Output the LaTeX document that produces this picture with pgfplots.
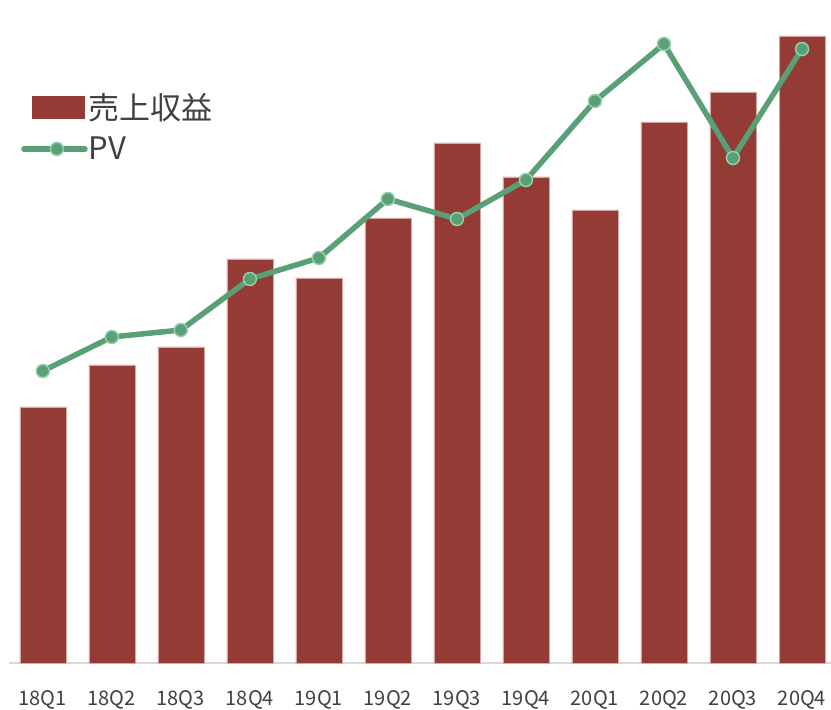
\documentclass[border=0pt]{standalone}
\usepackage{pgfplots}
\pgfplotsset{compat=1.18}
\usepackage{fontspec}
\setmainfont{Noto Sans CJK JP}

\definecolor{barred}{HTML}{943B36}
\definecolor{baredge}{HTML}{D8A8A4}
\definecolor{pvgreen}{HTML}{5AA077}
\definecolor{pvedge}{HTML}{93CFA9}
\definecolor{axisgray}{HTML}{D9D9D9}
\definecolor{txt}{HTML}{404040}

\begin{document}
\begin{tikzpicture}
\useasboundingbox (-9pt,-47pt) rectangle (822pt,663pt);
\begin{axis}[
    scale only axis,
    width=822pt, height=663pt,
    xmin=-0.49, xmax=11.42,
    ymin=0, ymax=663,
    axis x line*=bottom,
    axis y line=none,
    x axis line style={draw=axisgray, line width=1.5pt, -},
    xtick={0,...,11},
    xticklabels={18Q1,18Q2,18Q3,18Q4,19Q1,19Q2,19Q3,19Q4,20Q1,20Q2,20Q3,20Q4},
    major tick length=0pt,
    xticklabel style={anchor=base, yshift=-42.5pt, inner sep=0pt,
        font=\fontsize{20}{20}\selectfont, text=txt},
    legend style={draw=none, fill=none, at={(9pt,573pt)}, anchor=north west,
        font=\fontsize{31}{31}\selectfont, text=txt,
        nodes={inner sep=1pt}, row sep=14pt},
    legend cell align=left,
    clip=false,
]
\addplot[ybar, bar width=0.667, fill=barred, draw=baredge, line width=0.6pt,
    legend image code/.code={
        \fill[barred] (8pt,-11pt) rectangle (60pt,11pt);}]
    coordinates {
    (0,256)(1,298)(2,316)(3,404)(4,385)(5,445)
    (6,520)(7,486)(8,453)(9,541)(10,571)(11,627)
    };
\addlegendentry{売上収益}
\addplot[color=pvgreen, line width=5.5pt, mark=*,
    mark options={fill=pvgreen, draw=pvedge, line width=1.5pt, scale=1.0},
    mark size=6.5pt,
    legend image code/.code={
        \draw[pvgreen, line width=5.5pt, line cap=round] (0pt,0pt) -- (61pt,0pt);
        \fill[pvgreen, draw=pvedge, line width=1.5pt] (33pt,0pt) circle (6.5pt);}]
    coordinates {
    (0,292)(1,326)(2,333)(3,384)(4,405)(5,464)
    (6,444)(7,483)(8,562)(9,619)(10,505)(11,614)
    };
\addlegendentry{PV}
\end{axis}
\end{tikzpicture}
\end{document}
